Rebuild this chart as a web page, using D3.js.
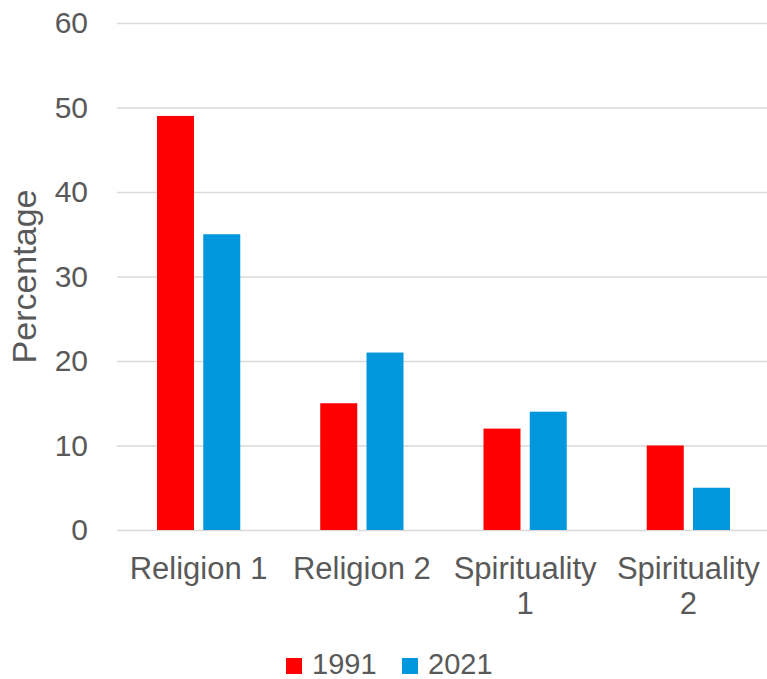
<!DOCTYPE html>
<html>
<head>
<meta charset="utf-8">
<script src="https://cdn.jsdelivr.net/npm/d3@7"></script>
<style>
  html, body { margin: 0; padding: 0; background: #fff; }
  svg { display: block; font-family: "Liberation Sans", Arial, sans-serif; }
</style>
</head>
<body>
<svg id="chart" width="767" height="679"></svg>
<script>
const categories = ["Religion 1", "Religion 2", "Spirituality 1", "Spirituality 2"];
const seriesNames = ["1991", "2021"];
const values1991 = [49, 15, 12, 10];
const values2021 = [35, 21, 14, 5];
const yTicks = [0, 10, 20, 30, 40, 50, 60];
const colors = ["#FF0000", "#0097DC"];
const yTitle = "Percentage";

(function () {
const svg = d3.select("#chart");
const mLeft = 117, mRight = 770, mTop = 23, mBottom = 530;
const textColor = "#595959";

const x0 = d3.scaleBand().domain(categories).range([mLeft, mRight])
  .paddingInner(0.49).paddingOuter(0.245);
const x1 = d3.scaleBand().domain(seriesNames).range([0, x0.bandwidth()]).paddingInner(0.2);
const y = d3.scaleLinear().domain([0, 60]).range([mBottom, mTop]);
const color = d3.scaleOrdinal().domain(seriesNames).range(colors);

// gridlines + y labels
const yAxis = d3.axisLeft(y).tickValues(yTicks).tickSize(-(mRight - mLeft)).tickPadding(29);
const gy = svg.append("g").attr("transform", `translate(${mLeft},0)`).call(yAxis);
gy.select(".domain").remove();
gy.selectAll(".tick line").attr("stroke", "#d9d9d9").attr("stroke-width", 1.5);
gy.selectAll(".tick text").attr("fill", textColor).style("font-size", "30px")
  .style("font-family", '"Liberation Sans", Arial, sans-serif');

// bars
const rows = categories.map((c, i) => ({ cat: c, vals: [values1991[i], values2021[i]] }));
const groups = svg.append("g").selectAll("g").data(rows).join("g")
  .attr("transform", d => `translate(${x0(d.cat)},0)`);
groups.selectAll("rect").data(d => d.vals.map((v, j) => ({ key: seriesNames[j], v })))
  .join("rect")
  .attr("x", d => x1(d.key))
  .attr("width", x1.bandwidth())
  .attr("y", d => y(d.v))
  .attr("height", d => y(0) - y(d.v))
  .attr("fill", d => color(d.key));

// x labels with wrapping
const xl = svg.append("g");
categories.forEach(c => {
  const cx = x0(c) + x0.bandwidth() / 2;
  const t = xl.append("text")
    .attr("x", cx)
    .attr("y", 579)
    .attr("text-anchor", "middle")
    .attr("fill", textColor)
    .style("font-size", "31px")
    .text(c);
  if (t.node().getComputedTextLength() > x0.step()) {
    const words = c.split(" ");
    const last = words.pop();
    t.text(null);
    t.append("tspan").attr("x", cx).attr("dy", 0).text(words.join(" "));
    t.append("tspan").attr("x", cx).attr("dy", 34.5).text(last);
  }
});

// y title
svg.append("text")
  .attr("transform", `translate(36,${(mTop + mBottom) / 2}) rotate(-90)`)
  .attr("text-anchor", "middle")
  .attr("fill", textColor)
  .style("font-size", "34px")
  .text(yTitle);

// legend
const legendX = [286, 402];
const lg = svg.append("g");
seriesNames.forEach((s, i) => {
  lg.append("rect").attr("x", legendX[i]).attr("y", 658).attr("width", 16).attr("height", 16)
    .attr("fill", color(s));
  lg.append("text").attr("x", legendX[i] + 26).attr("y", 674)
    .attr("fill", textColor).style("font-size", "29px").text(s);
});
})();
</script>
</body>
</html>
